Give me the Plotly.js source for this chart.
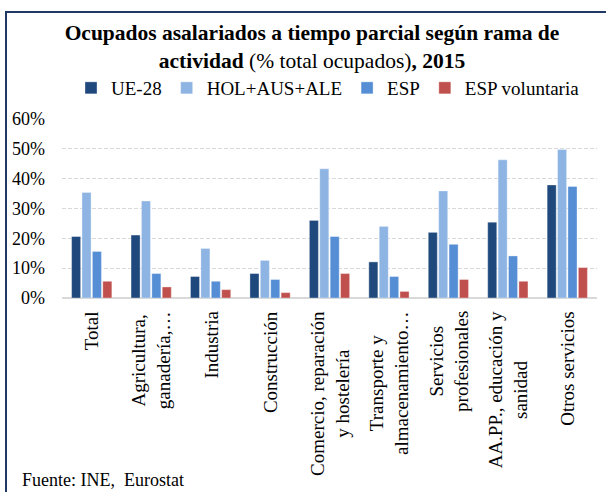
<!DOCTYPE html>
<html>
<head>
<meta charset="utf-8">
<script src="https://cdn.plot.ly/plotly-3.0.1.min.js"></script>
<style>
  html, body { margin: 0; padding: 0; background: #fff; overflow: hidden; }
  #wrap { position: relative; width: 606px; height: 492px; }
  #chart { position: absolute; left: 0; top: 0; width: 606px; height: 492px; }
  #frame { position: absolute; left: 5px; top: 11px; width: 700px; height: 600px;
           border-left: 2px solid #1F3864; border-top: 2px solid #1F3864; pointer-events: none; }
</style>
</head>
<body>
<div id="wrap">
  <div id="chart"></div>
  <div id="frame"></div>
</div>
<script>
// Categories (x axis)
const categories = [
  "Total",
  "Agricultura,<br>ganadería,…",
  "Industria",
  "Construcción",
  "Comercio, reparación<br>y hostelería",
  "Transporte y<br>almacenamiento…",
  "Servicios<br>profesionales",
  "AA.PP., educación y<br>sanidad",
  "Otros servicios"
];
const seriesNames = ["UE-28", "HOL+AUS+ALE", "ESP", "ESP voluntaria"];
// Values, % of total employed
const ue28      = [20.6, 21.1,  7.2,  8.2, 26.0, 12.1, 22.0, 25.4, 37.9];
const holAusAle = [35.4, 32.5, 16.6, 12.6, 43.3, 24.0, 35.9, 46.3, 49.8];
const esp       = [15.6,  8.2,  5.6,  6.2, 20.6,  7.2, 18.0, 14.1, 37.4];
const espVol    = [ 5.6,  3.7,  2.8,  1.8,  8.2,  2.2,  6.2,  5.6, 10.2];
const yTicks = [0, 10, 20, 30, 40, 50, 60];

const colors = ["#1F497D", "#8DB4E2", "#558ED5", "#C0504D"];
const allSeries = [ue28, holAusAle, esp, espVol];

const FONT = "Liberation Serif";

const traces = allSeries.map((vals, i) => ({
  type: "bar",
  name: seriesNames[i],
  x: categories,
  y: vals,
  marker: { color: colors[i], line: { color: "rgba(255,255,255,0.35)", width: 1 } },
  hoverinfo: "skip"
}));

const PLOT_TOP = 119, PLOT_BOTTOM = 298;
const plotH = PLOT_BOTTOM - PLOT_TOP;

const annotations = categories.map(c => ({
  x: c, xref: "x",
  y: (PLOT_BOTTOM - 309) / plotH, yref: "paper",
  text: c, showarrow: false,
  textangle: -90, xanchor: "center", yanchor: "top",
  align: "center",
  font: { family: FONT, size: 19, color: "#000" }
}));
annotations.push({
  x: (20 - 62) / 535, xref: "paper",
  y: (PLOT_BOTTOM - 480) / plotH, yref: "paper",
  text: "Fuente: INE,  Eurostat", showarrow: false,
  xanchor: "left", yanchor: "middle",
  font: { family: FONT, size: 18, color: "#000" }
});

const layout = {
  width: 606, height: 492,
  margin: { l: 62, r: 9, t: PLOT_TOP, b: 492 - PLOT_BOTTOM, pad: 0 },
  paper_bgcolor: "#fff", plot_bgcolor: "#fff",
  font: { family: FONT, size: 18, color: "#000" },
  title: {
    text: "<b>Ocupados asalariados a tiempo parcial según rama de</b><br><b>actividad</b> (% total ocupados)<b>, 2015</b>",
    font: { family: FONT, size: 21.5, color: "#000" },
    x: 312 / 606, xref: "container", xanchor: "center",
    y: 1 - 40 / 492, yref: "container", yanchor: "top"
  },
  showlegend: true,
  legend: {
    orientation: "h",
    x: 328 / 606, xref: "container", xanchor: "center",
    y: 1 - 88 / 492, yref: "container", yanchor: "middle",
    font: { family: FONT, size: 19, color: "#000" },
    itemwidth: 30, traceorder: "normal", bgcolor: "rgba(0,0,0,0)"
  },
  barmode: "group",
  bargap: 0.30,
  bargroupgap: 0.13,
  xaxis: {
    type: "category",
    showticklabels: false,
    showgrid: false, zeroline: false, showline: false, ticks: ""
  },
  yaxis: {
    range: [0, 60],
    tickvals: yTicks,
    ticktext: yTicks.map(v => v + "%"),
    showgrid: true, gridcolor: "#D9D9D9", gridwidth: 1, griddash: "4px,2px",
    zeroline: true, zerolinecolor: "#D9D9D9", zerolinewidth: 2,
    showline: false, ticks: "",
    ticklabelstandoff: 16,
    tickfont: { family: FONT, size: 18, color: "#000" }
  },
  annotations: annotations
};

Plotly.newPlot("chart", traces, layout, { displayModeBar: false, staticPlot: true });
</script>
</body>
</html>
